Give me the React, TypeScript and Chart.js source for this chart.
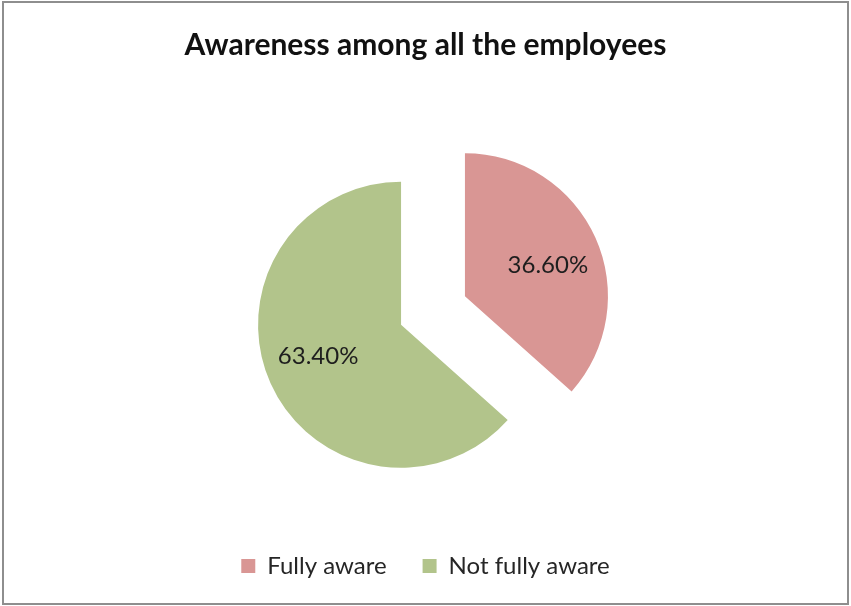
import React, { useEffect, useRef } from "react";
import { Chart, registerables } from "chart.js";

Chart.register(...registerables);

const categories = ["Fully aware", "Not fully aware"];
const values = [36.6, 63.4];
const valueLabels = ["36.60%", "63.40%"];
const sliceColors = ["#D99694", "#B2C48B"];
const chartTitle = "Awareness among all the employees";
const explodeDistance = 35;

// Move each slice outward along its mid-angle (Excel-style exploded pie)
const explodePlugin = {
  id: "explodeSlices",
  afterDatasetsUpdate(chart: any) {
    const meta = chart.getDatasetMeta(0);
    meta.data.forEach((arc: any) => {
      const mid = (arc.startAngle + arc.endAngle) / 2;
      arc.x += Math.cos(mid) * explodeDistance;
      arc.y += Math.sin(mid) * explodeDistance;
    });
  },
};

const sliceLabelPlugin = {
  id: "sliceLabels",
  afterDatasetsDraw(chart: any) {
    const ctx = chart.ctx;
    const meta = chart.getDatasetMeta(0);
    ctx.save();
    ctx.font = "24px Lato";
    ctx.fillStyle = "#1e1e1e";
    ctx.textAlign = "center";
    ctx.textBaseline = "middle";
    meta.data.forEach((arc: any, i: number) => {
      const p = arc.getProps(["x", "y", "startAngle", "endAngle", "outerRadius"], true);
      const mid = (p.startAngle + p.endAngle) / 2 + 0.06;
      const r = p.outerRadius * 0.62;
      ctx.fillText(valueLabels[i], p.x + Math.cos(mid) * r, p.y + Math.sin(mid) * r);
    });
    ctx.restore();
  },
};

const shiftPlugin = {
  id: "shiftArea",
  afterLayout(chart: any) {
    const a = chart.chartArea;
    a.left += 15;
    a.width = a.right - a.left;
  },
};

export default function App() {
  const ref = useRef<HTMLCanvasElement>(null);
  useEffect(() => {
    if (!ref.current) return;
    const chart = new Chart(ref.current, {
      type: "pie",
      data: {
        labels: categories,
        datasets: [
          {
            data: values,
            backgroundColor: sliceColors,
            borderWidth: 0,
            offset: 0,
          },
        ],
      },
      options: {
        responsive: false,
        animation: false,
        devicePixelRatio: 1,
        radius: 143,
        layout: { padding: { top: 0, bottom: 18, left: 0, right: 0 } },
        plugins: {
          title: {
            display: true,
            text: chartTitle,
            color: "#111111",
            font: { family: "Lato", size: 30, weight: "bold" },
            padding: { top: 27, bottom: 40 },
          },
          legend: {
            position: "bottom",
            labels: {
              color: "#262626",
              font: { family: "Lato", size: 24 },
              boxWidth: 14,
              boxHeight: 14,
              padding: 36,
            },
          },
          tooltip: { enabled: false },
        },
      } as any,
      plugins: [explodePlugin, sliceLabelPlugin, shiftPlugin],
    });
    return () => chart.destroy();
  }, []);
  return (
    <div style={{ position: "fixed", left: 0, top: 0, width: 851, height: 606, background: "#fff" }}>
      <canvas ref={ref} width={851} height={606} style={{ position: "absolute", left: 0, top: 0 }} />
      <div
        style={{
          position: "absolute",
          left: 2,
          top: 1,
          width: 847,
          height: 604,
          border: "2px solid #8e8e8e",
          boxSizing: "border-box",
          pointerEvents: "none",
        }}
      />
    </div>
  );
}
